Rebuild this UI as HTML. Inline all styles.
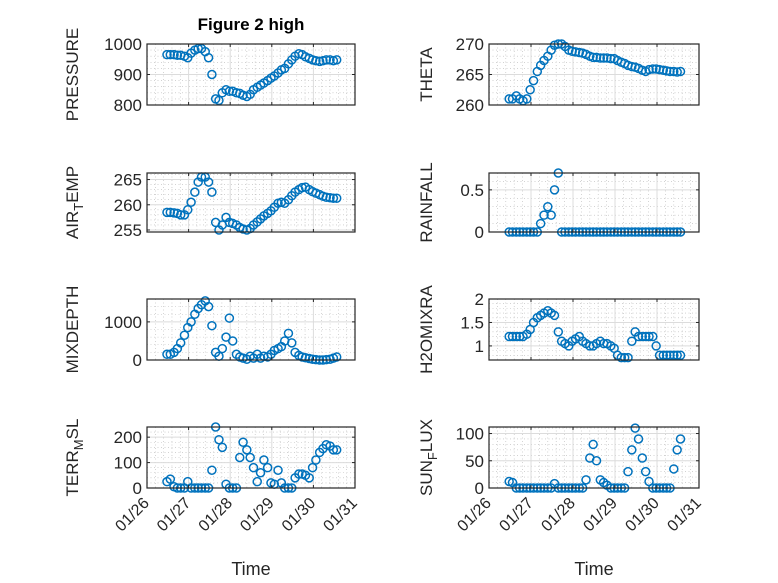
<!DOCTYPE html>
<html><head><meta charset="utf-8"><style>
html,body{margin:0;padding:0;background:#fff;}
svg{display:block;font-family:"Liberation Sans",sans-serif;}
</style></head><body>
<svg id="fig" width="778" height="583" viewBox="0 0 778 583"></svg>
<script>
const times = [0.48,0.56,0.65,0.73,0.81,0.90,0.98,1.06,1.15,1.23,1.31,1.40,1.48,1.56,1.65,1.73,1.81,1.90,1.98,2.06,2.15,2.23,2.31,2.40,2.48,2.56,2.65,2.73,2.81,2.90,2.98,3.06,3.15,3.23,3.31,3.40,3.48,3.56,3.65,3.73,3.81,3.90,3.98,4.06,4.15,4.23,4.31,4.40,4.48,4.56];
const xTickLabels = ["01/26","01/27","01/28","01/29","01/30","01/31"];
const pressure = [965,965,965,963,963,960,955,970,980,985,985,975,955,900,820,815,840,850,845,845,840,838,832,828,835,850,858,865,872,880,888,895,905,915,920,935,948,960,968,965,958,953,948,945,943,945,948,948,945,948];
const theta = [261,261,261.5,261,260.7,261,262.5,264,265.5,266.5,267.3,268,269,269.8,270,270,269.6,269,268.8,268.7,268.6,268.5,268.3,268,267.8,267.8,267.7,267.7,267.7,267.6,267.6,267.3,267,266.8,266.5,266.3,266.2,266,265.7,265.5,265.8,265.9,265.9,265.8,265.7,265.6,265.5,265.5,265.4,265.5];
const airTemp = [258.5,258.5,258.4,258.3,258,258,259,260.5,262.5,264.5,265.5,265.5,264.5,262.5,256.5,255,256,257.5,256.5,256.3,256,255.5,255.2,255,255.3,256,256.6,257.2,257.8,258.3,258.8,259.5,260.3,260.5,260.3,261,261.8,262.5,263,263.4,263.5,263,262.6,262.3,262,261.7,261.5,261.4,261.3,261.3];
const rainfall = [0,0,0,0,0,0,0,0,0,0.1,0.2,0.3,0.2,0.5,0.7,0,0,0,0,0,0,0,0,0,0,0,0,0,0,0,0,0,0,0,0,0,0,0,0,0,0,0,0,0,0,0,0,0,0,0];
const mixDepth = [150,150,200,300,450,650,850,1000,1200,1350,1450,1550,1400,900,200,100,300,600,1100,500,150,80,50,20,100,50,150,50,100,80,150,250,300,350,500,700,450,200,120,80,60,40,20,10,0,0,10,20,50,80];
const h2oMix = [1.2,1.2,1.2,1.2,1.2,1.25,1.35,1.5,1.6,1.65,1.7,1.75,1.7,1.65,1.3,1.1,1.05,1.0,1.1,1.15,1.2,1.1,1.05,1.0,1.0,1.05,1.1,1.05,1.05,1.0,0.95,0.8,0.75,0.75,0.75,1.1,1.3,1.2,1.2,1.2,1.2,1.2,1.0,0.8,0.8,0.8,0.8,0.8,0.8,0.8];
const terrMsl = [25,35,5,0,0,0,25,0,0,0,0,0,0,70,240,190,160,15,0,0,0,120,180,150,120,80,25,60,110,80,20,15,70,20,0,0,0,40,55,55,50,40,80,110,140,155,170,165,150,150];
const sunFlux = [12,10,0,0,0,0,0,0,0,0,0,0,0,8,0,0,0,0,0,0,0,0,15,55,80,50,15,10,5,0,0,0,0,0,30,70,110,90,55,30,12,0,0,0,0,0,0,35,70,90];

const NS="http://www.w3.org/2000/svg";
const svg=document.getElementById('fig');
function mk(tag,attrs,parent){const e=document.createElementNS(NS,tag);for(const k in attrs)e.setAttribute(k,attrs[k]);(parent||svg).appendChild(e);return e;}

const cols=[{x0:147,x1:355,lx:78},{x0:489,x1:699,lx:432}];
const rows=[{y0:44,y1:105},{y0:173,y1:232},{y0:299,y1:360},{y0:427,y1:488}];
const panels=[
 {name:'pressure',c:0,r:0,data:pressure,min:800,max:1000,ticks:[800,900,1000],minor:20,label:['PRESSURE']},
 {name:'theta',c:1,r:0,data:theta,min:260,max:270,ticks:[260,265,270],minor:1,label:['THETA']},
 {name:'air-temp',c:0,r:1,data:airTemp,min:254.6,max:266.3,ticks:[255,260,265],minor:1,label:['AIR','T','EMP']},
 {name:'rainfall',c:1,r:1,data:rainfall,min:0,max:0.7,ticks:[0,0.5],minor:0.1,label:['RAINFALL']},
 {name:'mixdepth',c:0,r:2,data:mixDepth,min:0,max:1600,ticks:[0,1000],minor:200,label:['MIXDEPTH']},
 {name:'h2omixra',c:1,r:2,data:h2oMix,min:0.7,max:2,ticks:[1,1.5,2],minor:0.1,label:['H2OMIXRA']},
 {name:'terr-msl',c:0,r:3,data:terrMsl,min:0,max:240,ticks:[0,100,200],minor:20,label:['TERR','M','SL']},
 {name:'sun-flux',c:1,r:3,data:sunFlux,min:0,max:112,ticks:[0,50,100],minor:10,label:['SUN','F','LUX']}
];

panels.forEach(p=>{
 const C=cols[p.c],R=rows[p.r];
 const g=mk('g',{});
 
 
 const X=d=>C.x0+(d/5)*(C.x1-C.x0);
 const Y=v=>R.y1-(v-p.min)/(p.max-p.min)*(R.y1-R.y0);
 mk('rect',{x:C.x0,y:R.y0,width:C.x1-C.x0,height:R.y1-R.y0,fill:'#fff'},g);
 for(let d=0.2;d<5;d+=0.2){ if(Math.abs(d-Math.round(d))<1e-6)continue;
  mk('line',{x1:X(d),x2:X(d),y1:R.y0,y2:R.y1,stroke:'#b8b8b8','stroke-width':0.6,'stroke-dasharray':'1 2.5'},g);}
 const start=Math.ceil(p.min/p.minor)*p.minor;
 for(let v=start;v<p.max-1e-9;v+=p.minor){
  mk('line',{x1:C.x0,x2:C.x1,y1:Y(v),y2:Y(v),stroke:'#b8b8b8','stroke-width':0.6,'stroke-dasharray':'1 2.5'},g);}
 for(let d=1;d<5;d++) mk('line',{x1:X(d),x2:X(d),y1:R.y0,y2:R.y1,stroke:'#dcdcdc','stroke-width':1},g);
 p.ticks.forEach(v=>mk('line',{x1:C.x0,x2:C.x1,y1:Y(v),y2:Y(v),stroke:'#dcdcdc','stroke-width':1},g));
 times.forEach((t,i)=>{
  const c=mk('circle',{cx:X(t),cy:Y(p.data[i]),r:4,fill:'none',stroke:'#0072BD','stroke-width':1.5},g);
  
  
 });
 mk('rect',{x:C.x0,y:R.y0,width:C.x1-C.x0,height:R.y1-R.y0,fill:'none',stroke:'#262626','stroke-width':1.2},g);
 for(let d=0;d<=5;d++){mk('line',{x1:X(d),x2:X(d),y1:R.y1,y2:R.y1-3,stroke:'#262626'},g);mk('line',{x1:X(d),x2:X(d),y1:R.y0,y2:R.y0+3,stroke:'#262626'},g);}
 p.ticks.forEach(v=>{
  mk('line',{x1:C.x0,x2:C.x0+3,y1:Y(v),y2:Y(v),stroke:'#262626'},g);
  mk('line',{x1:C.x1,x2:C.x1-3,y1:Y(v),y2:Y(v),stroke:'#262626'},g);
  const tl=mk('text',{x:C.x0-5,y:Y(v)+6,'text-anchor':'end','font-size':17,fill:'#262626'},g);
  tl.textContent=String(v);
  
  
 });
 const cy=(R.y0+R.y1)/2;
 const lab=mk('text',{x:C.lx,y:cy,'text-anchor':'middle','font-size':17,fill:'#262626',transform:`rotate(-90 ${C.lx} ${cy})`},g);
 
 
 if(p.label.length===1){lab.textContent=p.label[0];}
 else{
  const a=mk('tspan',{},lab);a.textContent=p.label[0];
  const b=mk('tspan',{dy:5,'font-size':13},lab);b.textContent=p.label[1];
  const c=mk('tspan',{dy:-5},lab);c.textContent=p.label[2];
 }
 if(p.r===3){
  xTickLabels.forEach((s,d)=>{
   const tx=X(d)+3,ty=R.y1+16;
   const t=mk('text',{x:tx,y:ty,'text-anchor':'end','font-size':16,fill:'#262626',transform:`rotate(-45 ${tx} ${ty})`},g);
   t.textContent=s;
   
   
  });
  const xt=mk('text',{x:(C.x0+C.x1)/2,y:575,'text-anchor':'middle','font-size':18,fill:'#262626'},g);
  xt.textContent='Time';
  
  
 }
});
const title=mk('text',{x:251,y:30,'text-anchor':'middle','font-size':17,'font-weight':'bold',fill:'#000'});
title.textContent='Figure 2 high';


</script>
</body></html>
